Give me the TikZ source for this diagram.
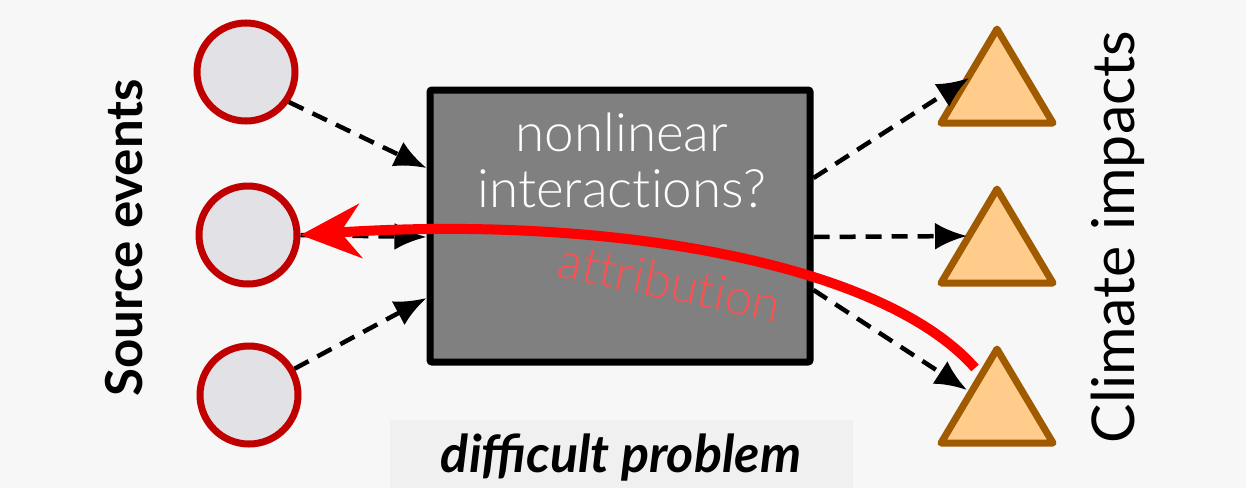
\documentclass[tikz,border=0pt]{standalone}
\usepackage{fontspec}
\setmainfont{Lato}
\newfontfamily\latolight{Lato Light}[Ligatures=NoCommon,Contextuals=NoAlternate]
\newcommand\brk{\kern0pt}
\usetikzlibrary{arrows.meta}
\definecolor{bgcol}{HTML}{F7F7F7}
\definecolor{notecol}{HTML}{F0F0F0}
\definecolor{srcfill}{HTML}{E2E2E6}
\definecolor{srcedge}{HTML}{C00000}
\definecolor{impfill}{HTML}{FFCC8C}
\definecolor{impedge}{HTML}{A05A00}
\definecolor{boxfill}{HTML}{808080}
\definecolor{attrcol}{HTML}{FF5050}
\tikzset{
  source/.style={circle, draw=srcedge, fill=srcfill, line width=7pt, minimum size=98pt, inner sep=0pt},
  impact/.style={fill=impfill, draw=impedge, line width=7pt, line join=round},
  flow/.style={dash pattern=on 16pt off 10pt, line width=4.5pt, -{Latex[length=32pt,width=27pt]}},
  backarrow/.style={draw=red, line width=10pt, -{Stealth[length=60pt,width=54pt,inset=20pt]}},
}
\begin{document}
\begin{tikzpicture}[x=1pt,y=-1pt]
  % canvas
  \fill[bgcol] (0,0) rectangle (1246,488);
  \useasboundingbox (0,0) rectangle (1246,488);
  \fill[notecol] (390,420) rectangle (853,488);

  % source events
  \node[source] (s1) at (246,72) {};
  \node[source] (s2) at (248,235) {};
  \node[source] (s3) at (249,395) {};

  % central system box
  \node[draw=black, fill=boxfill, line width=7pt, rounded corners=2pt,
        minimum width=380pt, minimum height=272pt, inner sep=0pt] (box) at (620,226) {};

  % impact triangles
  \foreach \y in {29,189,349}{
    \draw[impact] (997,\y) -- (1053,\y+94) -- (941,\y+94) -- cycle;
  }
  \coordinate (t1in) at (969,78);
  \coordinate (t2in) at (967,236);
  \coordinate (t3in) at (967,390);

  % forward flows
  \draw[flow] (s1.-35) -- (box.west |- 0,168);
  \draw[flow] (s2.east) -- (box.west |- 0,237);
  \draw[flow] (s3.30) -- (box.west |- 0,298);
  \draw[flow] (box.east |- 0,178) -- (t1in);
  \draw[flow] (box.east |- 0,237) -- (t2in);
  \draw[flow] (box.east |- 0,290) -- (t3in);

  % attribution arrow
  \coordinate (attrstart) at (975,368);
  \draw[backarrow] (attrstart) .. controls (880,260) and (600,215) .. (s2.east);

  % texts
  \node[text=white, font=\latolight\fontsize{53}{56}\selectfont, align=center] (nl) at (622,160) {nonlinear\\interact\brk ions?};
  \node[text=attrcol, font=\latolight\fontsize{50}{56}\selectfont, rotate=-12] (attr) at (670,282) {at\brk t\brk ribut\brk ion};
  \node[font=\bfseries\itshape\fontsize{52}{60}\selectfont] (diff) at (621,458) {difficult problem};
  \node[font=\bfseries\fontsize{51}{60}\selectfont, rotate=90] (src) at (124,238) {Source events};
  \node[font=\fontsize{59}{68}\selectfont, rotate=90] (clim) at (1118,237) {Climate impacts};
\end{tikzpicture}
\end{document}
